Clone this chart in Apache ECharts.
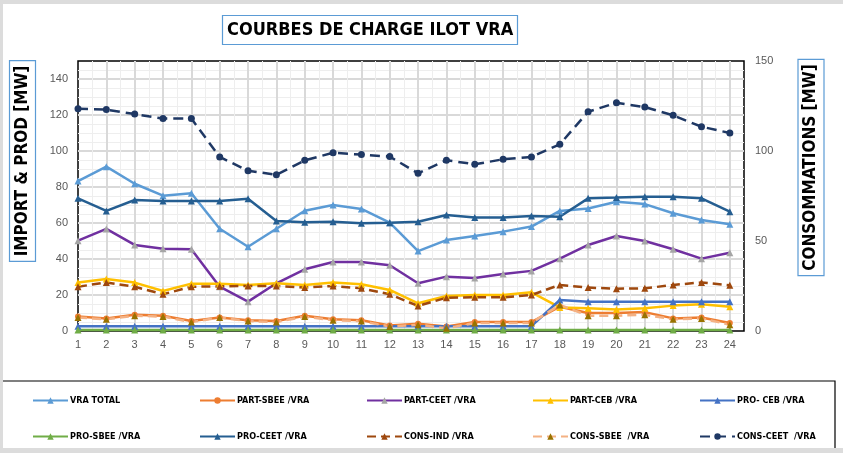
<!DOCTYPE html>
<html>
<head>
<meta charset="utf-8">
<script src="https://cdn.jsdelivr.net/npm/echarts@6/dist/echarts.min.js"></script>
<style>
  html, body { margin: 0; padding: 0; background: #fff; }
  #chart { width: 843px; height: 453px; }
</style>
</head>
<body>
<div id="chart"></div>
<script>
// hourly values (MW)
var hours = [1, 2, 3, 4, 5, 6, 7, 8, 9, 10, 11, 12, 13, 14, 15, 16, 17, 18, 19, 20, 21, 22, 23, 24]
var vraTotal = [83.3, 91.3, 81.8, 75.2, 76.5, 56.8, 46.8, 56.8, 66.8, 70, 67.8, 60.2, 44.4, 50.5, 52.8, 55.2, 58, 66.7, 68.1, 71.8, 70.5, 65.4, 61.7, 59.3]
var partSbee = [8, 7, 9, 8.5, 5.5, 7.5, 6, 5.5, 8.5, 6.5, 6, 3, 4, 2.5, 5, 5, 5, 13.5, 10, 10, 10.5, 7, 7.5, 4.5]
var partCeet = [50.2, 56.7, 47.8, 45.7, 45.4, 24.6, 16.3, 26.5, 34.3, 38.3, 38.3, 36.5, 26.5, 30.2, 29.4, 31.7, 33.4, 40.2, 47.8, 52.8, 50, 45.4, 40.2, 43.5]
var partCeb = [27, 28.9, 26.9, 22.2, 26.3, 26.3, 25.6, 26.5, 25.6, 26.9, 26, 22.8, 15.4, 19.4, 20, 20, 21.5, 13.1, 12.6, 12, 12.6, 14.1, 14.8, 13.5]
var proCeb = [2.7, 2.7, 2.7, 2.7, 2.7, 2.7, 2.7, 2.7, 2.7, 2.7, 2.7, 2.7, 2.7, 2.7, 2.7, 2.7, 2.7, 17.2, 16.3, 16.3, 16.3, 16.3, 16.3, 16.3]
var proSbee = [0.5, 0.5, 0.5, 0.5, 0.5, 0.5, 0.5, 0.5, 0.5, 0.5, 0.5, 0.5, 0.5, 0.5, 0.5, 0.5, 0.5, 0.5, 0.5, 0.5, 0.5, 0.5, 0.5, 0.5]
var proCeet = [73.7, 66.7, 72.8, 72.2, 72.2, 72.2, 73.5, 61.1, 60.4, 60.7, 59.8, 60.2, 60.7, 64.4, 63.1, 63.1, 63.9, 63.5, 73.7, 74.1, 74.6, 74.6, 73.7, 66.3]
var consInd = [24.6, 27, 24.6, 20.4, 24.6, 24.8, 25, 25, 24.2, 25, 23.7, 20.4, 13.9, 18.5, 18.7, 18.7, 20, 25.6, 24.1, 23.5, 23.7, 25.6, 27, 25.4]
var consSbee = [7.5, 6.5, 8.5, 8, 5, 7.5, 5.5, 5, 8, 6, 5.5, 2.5, 3.5, 1.5, 4.5, 4.5, 4.5, 14.5, 8.5, 8.5, 9, 6.5, 7, 3.5]
var consCeet = [123.5, 123, 120.5, 118, 118, 96.7, 89, 86.8, 94.8, 99, 98, 96.9, 87.6, 94.9, 92.6, 95.4, 96.7, 103.7, 121.8, 126.8, 124.4, 119.8, 113.5, 110]

var narrow = "'Liberation Sans Narrow', 'DejaVu Sans Condensed', 'Liberation Sans', sans-serif"

function pairs(values) {
  return hours.map(function (h, i) { return [h, values[i]] })
}

function lineSeries(name, values, opts) {
  return {
    name: name,
    type: 'line',
    yAxisIndex: opts.axis || 0,
    data: pairs(values),
    symbol: opts.symbol || 'triangle',
    symbolSize: opts.size || 7,
    showSymbol: true,
    lineStyle: { color: opts.color, width: opts.width || 2.5, type: opts.dash || 'solid' },
    itemStyle: { color: opts.marker || opts.color },
    emphasis: { disabled: true }
  }
}

// one legend per item so the columns keep a fixed pitch
var legendCols = [32, 199, 366, 532, 699]
var legendRows = [396, 432]
var legendNames = ['VRA TOTAL', 'PART-SBEE /VRA', 'PART-CEET /VRA', 'PART-CEB /VRA', 'PRO- CEB /VRA',
  'PRO-SBEE /VRA', 'PRO-CEET /VRA', 'CONS-IND /VRA', 'CONS-SBEE  /VRA', 'CONS-CEET  /VRA']
var legends = legendNames.map(function (n, i) {
  return {
    data: [n],
    left: legendCols[i % 5],
    top: legendRows[Math.floor(i / 5)],
    padding: 0,
    itemWidth: 35,
    itemHeight: 8,
    selectedMode: false,
    textStyle: { fontFamily: narrow, fontWeight: 'bold', fontSize: 9, color: '#000', padding: [0, 0, 0, -3] }
  }
})

var myChart = echarts.init(document.getElementById('chart'))
var option = {
  backgroundColor: '#fff',
  animation: false,
  title: {
    text: 'COURBES DE CHARGE ILOT VRA',
    left: 222,
    top: 15,
    padding: [6, 5, 6, 5],
    borderColor: '#5b9bd5',
    borderWidth: 1.2,
    textStyle: { fontFamily: narrow, fontWeight: 'bold', fontSize: 18, color: '#000' }
  },
  legend: legends,
  grid: {
    left: 78,
    right: 99,
    top: 61,
    bottom: 122,
    show: true,
    borderColor: '#000',
    borderWidth: 1.5,
    backgroundColor: 'transparent'
  },
  xAxis: {
    type: 'value',
    min: 1,
    max: 24.5,
    interval: 1,
    axisLine: { show: false },
    axisTick: { show: false },
    axisLabel: { color: '#595959', fontSize: 11, margin: 8, showMaxLabel: false },
    splitLine: { show: true, showMinLine: false, showMaxLine: false, lineStyle: { color: '#d9d9d9', width: 2 } },
    minorSplitLine: { show: true, lineStyle: { color: '#eeeeee', width: 1 } },
    minorTick: { show: false, splitNumber: 2 }
  },
  yAxis: [
    {
      type: 'value',
      min: 0,
      max: 150,
      interval: 20,
      axisLine: { show: false },
      axisTick: { show: false },
      axisLabel: { color: '#595959', fontSize: 11, margin: 10, showMaxLabel: false },
      splitLine: { show: true, showMinLine: false, showMaxLine: false, lineStyle: { color: '#d9d9d9', width: 2 } },
      minorSplitLine: { show: true, lineStyle: { color: '#eeeeee', width: 1 } },
      minorTick: { show: false, splitNumber: 4 }
    },
    {
      type: 'value',
      min: 0,
      max: 150,
      interval: 50,
      axisLine: { show: false },
      axisTick: { show: false },
      axisLabel: { color: '#595959', fontSize: 11, margin: 11 },
      splitLine: { show: false }
    }
  ],
  graphic: [
    { type: 'rect', shape: { x: 0, y: 0, width: 843, height: 4 }, style: { fill: '#dcdcdc' }, silent: true },
    { type: 'rect', shape: { x: 0, y: 0, width: 3, height: 453 }, style: { fill: '#dcdcdc' }, silent: true },
    { type: 'rect', shape: { x: 0, y: 448, width: 843, height: 5 }, style: { fill: '#dcdcdc' }, silent: true },
    { type: 'polyline', shape: { points: [[3, 381], [835, 381], [835, 448]] }, style: { stroke: '#000', lineWidth: 1.2, fill: null }, silent: true },
    {
      type: 'text', x: 22.5, y: 161, rotation: Math.PI / 2,
      style: {
        text: 'IMPORT & PROD [MW]', font: "bold 17px " + narrow, fill: '#000',
        align: 'center', verticalAlign: 'middle',
        borderColor: '#5b9bd5', borderWidth: 1.2, padding: [5, 5, 4, 5]
      },
      silent: true
    },
    {
      type: 'text', x: 811, y: 167.5, rotation: Math.PI / 2,
      style: {
        text: 'CONSOMMATIONS [MW]', font: "bold 17px " + narrow, fill: '#000',
        align: 'center', verticalAlign: 'middle',
        borderColor: '#5b9bd5', borderWidth: 1.2, padding: [5, 5, 4, 5]
      },
      silent: true
    }
  ],
  series: [
    lineSeries('VRA TOTAL', vraTotal, { color: '#5b9bd5' }),
    lineSeries('PART-SBEE /VRA', partSbee, { color: '#ed7d31', symbol: 'circle', size: 6 }),
    lineSeries('PART-CEET /VRA', partCeet, { color: '#7030a0', marker: '#a5a5a5' }),
    lineSeries('PART-CEB /VRA', partCeb, { color: '#ffc000' }),
    lineSeries('PRO- CEB /VRA', proCeb, { color: '#4472c4' }),
    lineSeries('PRO-SBEE /VRA', proSbee, { color: '#70ad47' }),
    lineSeries('PRO-CEET /VRA', proCeet, { color: '#255e91' }),
    lineSeries('CONS-IND /VRA', consInd, { color: '#9e480e', dash: [9, 5], axis: 1 }),
    lineSeries('CONS-SBEE  /VRA', consSbee, { color: '#f4b183', marker: '#997300', dash: [9, 5], axis: 1 }),
    lineSeries('CONS-CEET  /VRA', consCeet, { color: '#1f3864', symbol: 'circle', size: 7, dash: [10, 6], axis: 1 })
  ]
}
myChart.setOption(option)
</script>
</body>
</html>
